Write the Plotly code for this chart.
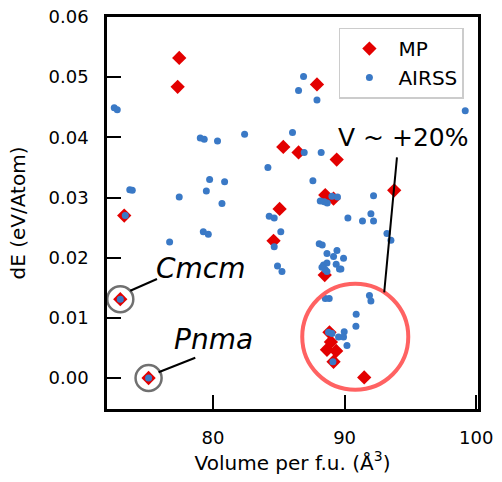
import plotly.graph_objects as go

# ---------------- data ----------------
mp_volume = [77.43, 77.31, 87.90, 85.34, 86.50, 89.40, 93.77, 88.53, 89.16, 85.06,
             73.25, 84.60, 88.49, 72.95, 75.10, 88.85, 88.96, 88.66, 89.36, 89.16, 91.49]
mp_dE = [0.0532, 0.0484, 0.0488, 0.0384, 0.0375, 0.0363, 0.0312, 0.0304, 0.0298, 0.0281,
         0.0270, 0.0228, 0.0171, 0.0131, 0.0000, 0.0076, 0.0060, 0.0047, 0.0045, 0.0027, 0.0001]

airss_volume = [72.49, 72.72, 79.03, 79.33, 80.34, 82.40, 86.04, 86.93, 84.17, 79.74,
                80.88, 73.67, 73.86, 79.49, 77.43, 80.68, 84.27, 84.65, 85.15, 84.65,
                79.26, 79.64, 76.70, 84.90, 85.24, 73.33, 72.95, 75.10, 86.50, 86.88,
                87.90, 88.22, 87.59, 92.20, 99.17, 88.15, 88.68, 89.04, 89.46, 88.45,
                90.25, 91.36, 92.00, 92.20, 93.22, 93.52, 88.07, 88.30, 88.66, 89.42,
                89.16, 89.92, 88.40, 88.66, 89.36, 89.61, 88.53, 88.28, 88.66, 89.72,
                88.53, 88.83, 91.89, 92.00, 90.88, 90.86, 89.97, 88.78, 89.04, 89.54,
                89.92, 90.18, 89.11]
airss_dE = [0.0449, 0.0446, 0.0399, 0.0397, 0.0394, 0.0405, 0.0408, 0.0375, 0.0350, 0.0330,
            0.0326, 0.0313, 0.0312, 0.0311, 0.0301, 0.0290, 0.0269, 0.0266, 0.0243, 0.0218,
            0.0243, 0.0239, 0.0226, 0.0186, 0.0177, 0.0270, 0.0131, 0.0000, 0.0478, 0.0501,
            0.0462, 0.0375, 0.0328, 0.0303, 0.0444, 0.0294, 0.0291, 0.0302, 0.0301, 0.0293,
            0.0266, 0.0261, 0.0273, 0.0261, 0.0240, 0.0229, 0.0223, 0.0221, 0.0207, 0.0212,
            0.0202, 0.0199, 0.0188, 0.0191, 0.0189, 0.0181, 0.0180, 0.0184, 0.0177, 0.0181,
            0.0132, 0.0132, 0.0137, 0.0128, 0.0106, 0.0086, 0.0077, 0.0076, 0.0074, 0.0068,
            0.0068, 0.0054, 0.0027]

x_ticks = [80, 90, 100]
y_ticks = [0.00, 0.01, 0.02, 0.03, 0.04, 0.05, 0.06]

# annotated phases: (label, volume, dE)
phases = [("Cmcm", 72.95, 0.0131), ("Pnma", 75.10, 0.0000)]

FONT = "DejaVu Sans"
RED = "#e30000"
BLUE = "#3a79c6"

fig = go.Figure()
fig.add_trace(go.Scatter(
    x=mp_volume, y=mp_dE, mode="markers", name="MP", legendgroup="mp",
    marker=dict(symbol="diamond", size=11, color=RED, line=dict(width=0)),
))
fig.add_trace(go.Scatter(
    x=airss_volume, y=airss_dE, mode="markers", name="AIRSS", legendgroup="airss",
    marker=dict(symbol="circle", size=7, color=BLUE, line=dict(width=0)),
))

shapes = []
annotations = []
# small grey circles around the phases
rx, ry = 0.99, 0.00216
for label, vx, vy in phases:
    shapes.append(dict(type="circle", xref="x", yref="y",
                       x0=vx - rx, x1=vx + rx, y0=vy - ry, y1=vy + ry,
                       line=dict(color="#707070", width=2.5)))
# leader lines + labels
shapes.append(dict(type="line", xref="x", yref="y", x0=73.71, y0=0.01451, x1=75.74, y1=0.01645,
                   line=dict(color="black", width=2)))
shapes.append(dict(type="line", xref="x", yref="y", x0=75.86, y0=0.00095, x1=78.65, y1=0.00337,
                   line=dict(color="black", width=2)))
annotations.append(dict(x=79.09, y=0.01828, xref="x", yref="y", text="<i>Cmcm</i>",
                        showarrow=False, font=dict(family=FONT, size=28, color="black")))
annotations.append(dict(x=80.03, y=0.00632, xref="x", yref="y", text="<i>Pnma</i>",
                        showarrow=False, font=dict(family=FONT, size=28, color="black")))

# big red circle (volume expansion region)
shapes.append(dict(type="circle", xref="x", yref="y",
                   x0=86.78, x1=94.84, y0=-0.00195, y1=0.01567,
                   line=dict(color="#ff6262", width=4)))
shapes.append(dict(type="line", xref="x", yref="y", x0=93.98, y0=0.03668, x1=93.01, y1=0.01424,
                   line=dict(color="black", width=2)))
annotations.append(dict(x=94.45, y=0.0399, xref="x", yref="y", text="V ~ +20%",
                        showarrow=False, font=dict(family=FONT, size=25, color="black")))

fig.update_layout(
    width=502, height=482,
    margin=dict(l=107, r=24, t=17, b=73),
    paper_bgcolor="white", plot_bgcolor="white",
    font=dict(family=FONT, size=17, color="black"),
    shapes=shapes, annotations=annotations,
    showlegend=True,
    legend=dict(x=0.962, y=0.973, xanchor="right", yanchor="top",
                bgcolor="rgba(255,255,255,0.9)", bordercolor="#cccccc", borderwidth=1.5,
                font=dict(family=FONT, size=20, color="black"),
                itemwidth=48, tracegroupgap=0, traceorder="grouped"),
)
fig.update_xaxes(
    range=[71.94, 100.14], tickvals=x_ticks, ticktext=[str(t) for t in x_ticks],
    ticks="inside", ticklen=14, tickwidth=2, tickcolor="black",
    showline=True, linecolor="black", linewidth=2.5, mirror=True,
    showgrid=False, zeroline=False, automargin=False,
    title=dict(text="Volume per f.u. (Å<sup>3</sup>)", font=dict(size=20), standoff=8),
    tickfont=dict(size=18), ticklabelstandoff=11,
)
fig.update_yaxes(
    range=[-0.00515, 0.0600], tickvals=y_ticks, tickformat=".2f",
    ticks="inside", ticklen=14, tickwidth=2, tickcolor="black",
    showline=True, linecolor="black", linewidth=2.5, mirror=True,
    showgrid=False, zeroline=False, automargin=False,
    title=dict(text="dE (eV/Atom)", font=dict(size=20), standoff=18),
    tickfont=dict(size=18), ticklabelstandoff=12,
)

fig.write_html(
    "out.html",
    config={"displayModeBar": False},
    post_script="document.body.style.margin='0px';document.body.style.overflow='hidden';",
)
